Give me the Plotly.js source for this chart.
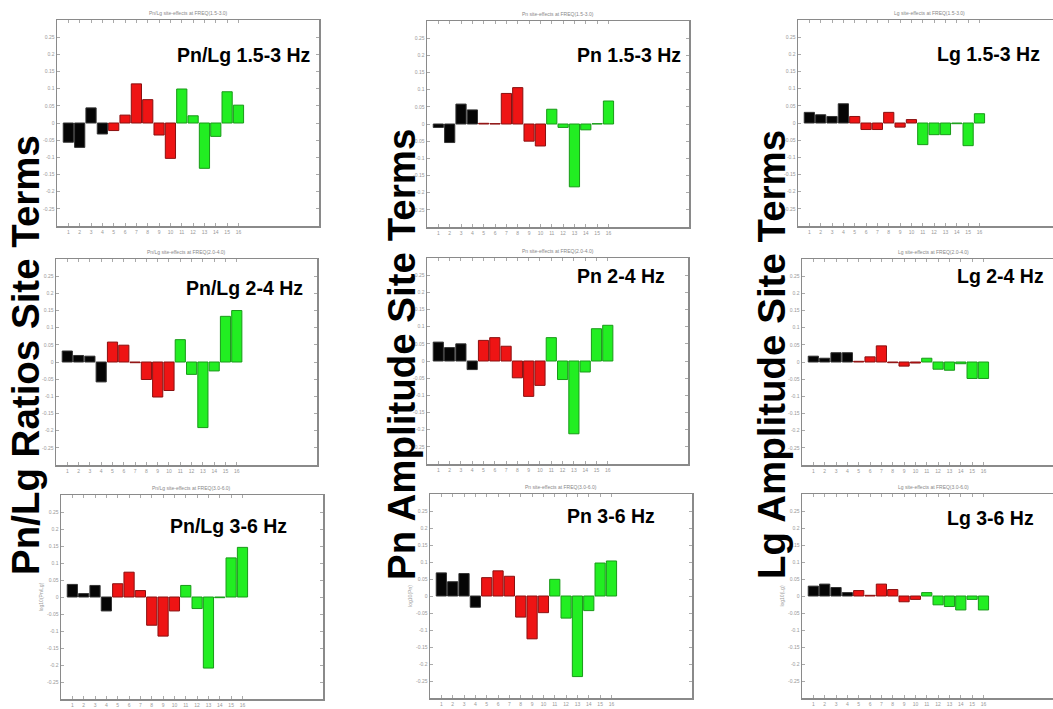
<!DOCTYPE html>
<html>
<head>
<meta charset="utf-8">
<script src="https://cdn.plot.ly/plotly-3.0.1.min.js"></script>
<style>
html,body{margin:0;padding:0;background:#fff;overflow:hidden;width:1053px;height:709px;}
#chart{width:1070px;height:709px;}
</style>
</head>
<body>
<div id="chart"></div>
<script>
// ---- data ----
const stations = ['1','2','3','4','5','6','7','8','9','10','11','12','13','14','15','16'];
const yTickVals = [-0.25,-0.2,-0.15,-0.1,-0.05,0,0.05,0.1,0.15,0.2,0.25];
const yTickText = ['-0.25','-0.2','-0.15','-0.1','-0.05','0','0.05','0.1','0.15','0.2','0.25'];

const pnlg_1_5_3 = [-0.056,-0.071,0.044,-0.032,-0.022,0.023,0.114,0.068,-0.035,-0.103,0.099,0.021,-0.132,-0.039,0.091,0.052];
const pn_1_5_3   = [-0.010,-0.054,0.058,0.041,0.002,0.001,0.089,0.106,-0.050,-0.064,0.043,-0.010,-0.183,-0.017,0.001,0.067];
const lg_1_5_3   = [0.031,0.024,0.019,0.056,0.019,-0.019,-0.019,0.031,-0.012,0.010,-0.063,-0.034,-0.034,-0.002,-0.066,0.027];

const pnlg_2_4 = [0.032,0.019,0.017,-0.058,0.058,0.049,-0.002,-0.051,-0.102,-0.083,0.065,-0.036,-0.191,-0.026,0.133,0.150];
const pn_2_4   = [0.055,0.039,0.050,-0.025,0.060,0.068,0.043,-0.049,-0.103,-0.071,0.068,-0.054,-0.212,-0.032,0.094,0.104];
const lg_2_4   = [0.017,0.011,0.027,0.027,0.002,0.015,0.047,-0.002,-0.012,-0.003,0.011,-0.021,-0.024,-0.005,-0.048,-0.048];

const pnlg_3_6 = [0.037,0.010,0.034,-0.041,0.039,0.073,0.019,-0.083,-0.115,-0.041,0.034,-0.034,-0.209,-0.002,0.115,0.146];
const pn_3_6   = [0.068,0.042,0.066,-0.033,0.054,0.074,0.058,-0.062,-0.126,-0.049,0.049,-0.065,-0.237,-0.043,0.097,0.103];
const lg_3_6   = [0.029,0.035,0.025,0.010,0.016,0.002,0.035,0.019,-0.017,-0.010,0.010,-0.026,-0.031,-0.041,-0.010,-0.041];

const panelLabels = ['Pn/Lg 1.5-3 Hz','Pn 1.5-3 Hz','Lg 1.5-3 Hz','Pn/Lg 2-4 Hz','Pn 2-4 Hz','Lg 2-4 Hz','Pn/Lg 3-6 Hz','Pn 3-6 Hz','Lg 3-6 Hz'];
const panelTitles = ['Pn/Lg site-effects at FREQ(1.5-3.0)','Pn site-effects at FREQ(1.5-3.0)','Lg site-effects at FREQ(1.5-3.0)',
                     'Pn/Lg site-effects at FREQ(2.0-4.0)','Pn site-effects at FREQ(2.0-4.0)','Lg site-effects at FREQ(2.0-4.0)',
                     'Pn/Lg site-effects at FREQ(3.0-6.0)','Pn site-effects at FREQ(3.0-6.0)','Lg site-effects at FREQ(3.0-6.0)'];
const yTitles = ['','','','','','','log10(Pn/Lg)','log10(Pn)','log10(Lg)'];
const rowLabels = ['Pn/Lg Ratios Site Terms','Pn Amplitude Site Terms','Lg Amplitude Site Terms'];
const series = [pnlg_1_5_3, pn_1_5_3, lg_1_5_3, pnlg_2_4, pn_2_4, lg_2_4, pnlg_3_6, pn_3_6, lg_3_6];

// ---- layout geometry (pixels) ----
const W = 1070, H = 709;
const px = x => x / W;
const py = y => 1 - y / H;
const boxes = [
  [57,319,20,226],[427,689,21,227],[798,1060,20,226],
  [56,317,259,465],[427,688,258,464],[802,1064,259,465],
  [61,323,495,699],[430,692,494,698],[802,1064,494,698]
];
const labelPos = [[177,55],[577,55],[937,54],[186,288],[577,276],[957,276],[170,526],[567,516],[947,518]];
const rowLabelX = [25,401,771];

const BLACK = '#050505', RED = '#ee1414', GREEN = '#22ee22';
function barColor(i){ return i < 4 ? BLACK : (i < 10 ? RED : GREEN); }
function edgeColor(i){ return i < 4 ? '#333' : (i < 10 ? '#8a1010' : '#189a18'); }

const traces = [];
const layout = {
  width: W, height: H,
  margin: {l:0,r:0,t:0,b:0},
  paper_bgcolor: '#fff', plot_bgcolor: '#fff',
  showlegend: false,
  annotations: [],
  font: {family: 'Liberation Sans, Arial, sans-serif'}
};

series.forEach((vals, k) => {
  const n = k + 1;
  const xa = 'x' + (n === 1 ? '' : n), ya = 'y' + (n === 1 ? '' : n);
  traces.push({
    type: 'bar',
    x: stations.map(s => Number(s)),
    y: vals,
    xaxis: xa, yaxis: ya,
    width: 0.9,
    marker: {color: vals.map((v,i) => barColor(i)), line: {color: vals.map((v,i) => edgeColor(i)), width: 1}},
    hoverinfo: 'x+y'
  });
  const b = boxes[k];
  const axName = n === 1 ? '' : n;
  layout['xaxis' + axName] = {
    domain: [px(b[0]), px(b[1])], anchor: ya, range: [0, 23.1],
    tickvals: stations.map(s => Number(s)), ticktext: stations,
    tickfont: {size: 5, color: '#999'}, ticks: 'inside', ticklen: 3, tickcolor: '#aaa',
    showline: true, linecolor: '#8a8a8a', linewidth: 1.5, mirror: 'ticks',
    showgrid: false, zeroline: false, fixedrange: true
  };
  layout['yaxis' + axName] = {
    domain: [py(b[3]), py(b[2])], anchor: xa, range: [-0.3, 0.3],
    tickvals: yTickVals, ticktext: yTickText,
    tickfont: {size: 5, color: '#999'}, ticks: 'inside', ticklen: 3, tickcolor: '#aaa',
    showline: true, linecolor: '#8a8a8a', linewidth: 1.5, mirror: 'ticks',
    showgrid: false, zeroline: false, fixedrange: true,
    title: {text: yTitles[k], font: {size: 5, color: '#999'}, standoff: 3}
  };
  // small panel title
  layout.annotations.push({
    xref: 'paper', yref: 'paper', x: px((b[0]+b[1])/2), y: py(b[2] - 7),
    text: panelTitles[k], showarrow: false, xanchor: 'center', yanchor: 'middle',
    font: {size: 5, color: '#888'}
  });
  // bold panel label
  layout.annotations.push({
    xref: 'paper', yref: 'paper', x: px(labelPos[k][0] - 2), y: py(labelPos[k][1]),
    text: '<b>' + panelLabels[k] + '</b>', showarrow: false, xanchor: 'left', yanchor: 'middle',
    font: {size: 19.5, color: '#000', family: 'Liberation Sans, Arial, sans-serif'}
  });
});

rowLabels.forEach((t, c) => {
  layout.annotations.push({
    xref: 'paper', yref: 'paper', x: px(rowLabelX[c]), y: py(355),
    text: '<b>' + t + '</b>', showarrow: false, textangle: -90,
    xanchor: 'center', yanchor: 'middle',
    font: {size: 38.5, color: '#000', family: 'Liberation Sans, Arial, sans-serif'}
  });
});

Plotly.newPlot('chart', traces, layout, {displayModeBar: false, staticPlot: true});
</script>
</body>
</html>
